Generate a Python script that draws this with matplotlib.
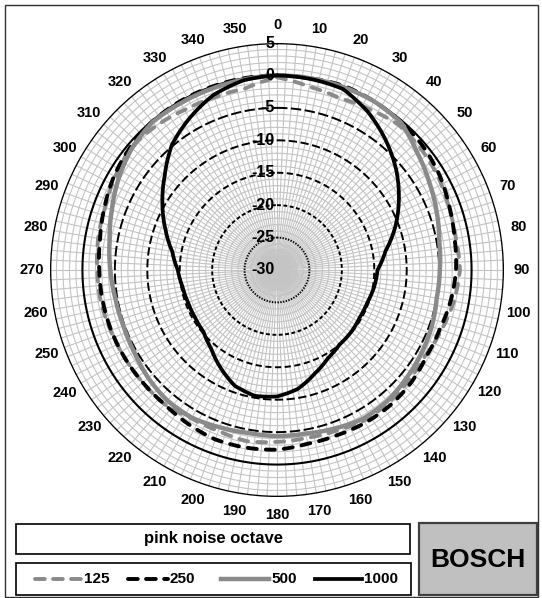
import numpy as np
import matplotlib
matplotlib.use('Agg')
import matplotlib.pyplot as plt
from matplotlib.patches import Rectangle, PathPatch
from matplotlib.lines import Line2D
from matplotlib.path import Path
from matplotlib.transforms import offset_copy

# measured directivity, dB relative to on-axis, every 10 degrees
angles = np.arange(0, 360, 10)
spl_125 = [-0.3, -1.3, -1.8, -1.4, -0.8, -1.0, -1.3, -1.8, -2.0, -1.8,
           -2.3, -3.0, -3.6, -3.5, -3.3, -3.2, -3.6, -3.7, -3.5, -3.2,
           -3.6, -3.6, -3.0, -3.0, -2.9, -2.7, -2.4, -2.3, -2.0, -1.8,
           -1.2, -0.6, -1.0, -1.5, -1.7, -1.6]
spl_250 = [0.0, 0.0, 0.2, 0.0, -0.2, -0.5, -1.0, -1.7, -2.2, -2.4,
           -2.8, -3.3, -3.4, -3.0, -2.8, -2.8, -2.9, -2.8, -2.3, -2.2,
           -2.2, -2.6, -3.0, -3.0, -2.9, -2.8, -2.7, -2.6, -2.3, -1.7,
           -1.0, -0.5, -0.1, 0.0, 0.0, 0.0]
spl_500 = [0.0, 0.0, 0.0, 0.0, -0.3, -1.8, -2.9, -3.8, -4.6, -4.9,
           -5.0, -4.6, -4.3, -4.0, -3.6, -3.5, -4.0, -4.4, -4.4, -4.5,
           -4.2, -3.7, -3.7, -4.1, -4.6, -4.8, -4.7, -4.3, -3.8, -2.9,
           -1.8, -0.8, -0.2, -0.3, -0.3, -0.2]
spl_1000 = [0.0, -0.1, -0.3, -1.9, -3.9, -6.0, -8.3, -10.6, -13.0, -14.5,
            -14.8, -15.2, -15.3, -15.1, -15.0, -14.3, -13.0, -11.4, -10.5, -10.3,
            -11.0, -12.6, -14.2, -15.2, -15.4, -15.4, -15.2, -14.7, -13.6, -11.7,
            -9.6, -7.4, -4.8, -3.0, -1.3, -0.3]
series_names = ['125', '250', '500', '1000']
ring_levels = [5, 0, -5, -10, -15, -20, -25]
radial_levels = [5, 0, -5, -10, -15, -20, -25, -30]
angle_labels = [str(a) for a in angles]
title_text = 'pink noise octave'
brand_text = 'BOSCH'

plt.rcParams['font.family'] = ['Liberation Sans', 'DejaVu Sans']
plt.rcParams['font.weight'] = 'bold'
plt.rcParams['lines.scale_dashes'] = False

W, H = 542, 598
fig = plt.figure(figsize=(W / 100, H / 100), dpi=100)
cx, cy, R = 277, 270, 227
ax = fig.add_axes([(cx - R) / W, (H - cy - R) / H, 2 * R / W, 2 * R / H],
                  projection='polar')
ax.set_theta_zero_location('N')
ax.set_theta_direction(-1)
ax.set_ylim(-30, 5)
ax.grid(False)
ax.set_xticks([])
ax.set_yticks([])
ax.spines['polar'].set_visible(False)

full = np.linspace(0, 2 * np.pi, 721)
grid_gray = '#c4c4c4'
for a in np.arange(0, 360, 2.5):
    ax.plot([np.radians(a)] * 2, [-30, 5], color=grid_gray, lw=0.8, zorder=1)
for lvl in range(-29, 5):
    if lvl % 5:
        ax.plot(full, np.full_like(full, lvl), color=grid_gray, lw=0.8, zorder=1)

ring_style = {5: (1.9, None), 0: (1.5, None), -5: (1.4, (7.5, 2.5)),
              -10: (1.4, (6, 2.5)), -15: (1.4, (4.5, 2.5)),
              -20: (1.4, (2.8, 1.8)), -25: (1.4, (1.0, 1.0))}
for lvl in ring_levels:
    lw, dash = ring_style[lvl]
    ln, = ax.plot(full, np.full_like(full, lvl), color='black', lw=lw, zorder=2)
    if dash:
        ln.set_dashes(dash)

th = np.radians(np.append(angles, 360))
gray = '#8a8a8a'
curve_styles = [
    dict(color=gray, lw=2.8, dashes=(6.5, 6.5), capstyle='round'),
    dict(color='black', lw=2.8, dashes=(6.5, 6.5), capstyle='round'),
    dict(color=gray, lw=3.2, dashes=None, capstyle='round'),
    dict(color='black', lw=2.7, dashes=None, capstyle='round'),
]
for vals, st in zip([spl_125, spl_250, spl_500, spl_1000], curve_styles):
    verts = np.column_stack([th, np.append(vals, vals[0])])
    # let the polar transform curve each segment instead of a straight chord
    path = Path(verts, _interpolation_steps=12)
    ls = (0, st['dashes']) if st['dashes'] else 'solid'
    ax.add_patch(PathPatch(path, fill=False, edgecolor=st['color'], lw=st['lw'],
                           linestyle=ls, capstyle=st['capstyle'],
                           joinstyle='round', zorder=3))

label_r = -30 + 245 / R * 35
for a, s in zip(angles, angle_labels):
    ax.text(np.radians(a), label_r, s, ha='center', va='center', fontsize=10.5,
            clip_on=False, zorder=5)

tr = offset_copy(ax.transData, fig=fig, x=-2.5, y=0, units='dots')
for lvl in radial_levels:
    ax.text(0, lvl, str(lvl), ha='right', va='center', fontsize=11.5,
            transform=tr, zorder=10, clip_on=False)


def fx(px):
    return px / W


def fy(py):
    return 1 - py / H


def box(x0, y0, x1, y1, **kw):
    fig.add_artist(Rectangle((fx(x0), fy(y1)), fx(x1) - fx(x0), fy(y0) - fy(y1),
                             transform=fig.transFigure, **kw))


# outer frame
box(5, 5, 538, 597, fill=False, edgecolor='#303030', lw=1.0)
box(16, 524, 410, 554, facecolor='white', edgecolor='black', lw=1.2)
fig.text(fx(213), fy(539), title_text, ha='center', va='center', fontsize=12)
box(16, 563, 411, 595, facecolor='white', edgecolor='black', lw=1.2)
box(419, 523, 537, 595, facecolor='#c0c0c0', edgecolor='#404040', lw=1.6)
fig.text(fx(478), fy(560), brand_text, ha='center', va='center', fontsize=19)

sample_x = [(35, 82), (128, 168), (221, 269), (315, 362)]
for (x0, x1), name, st in zip(sample_x, series_names, curve_styles):
    kw = dict(color=st['color'], lw=st['lw'])
    if st['dashes']:
        kw.update(dashes=(7, 6), dash_capstyle='round')
    fig.add_artist(Line2D([fx(x0), fx(x1)], [fy(579), fy(579)],
                          transform=fig.transFigure, **kw))
    fig.text(fx(x1 + 2), fy(579), name, ha='left', va='center', fontsize=11)

fig.savefig('out.png', dpi=100)
